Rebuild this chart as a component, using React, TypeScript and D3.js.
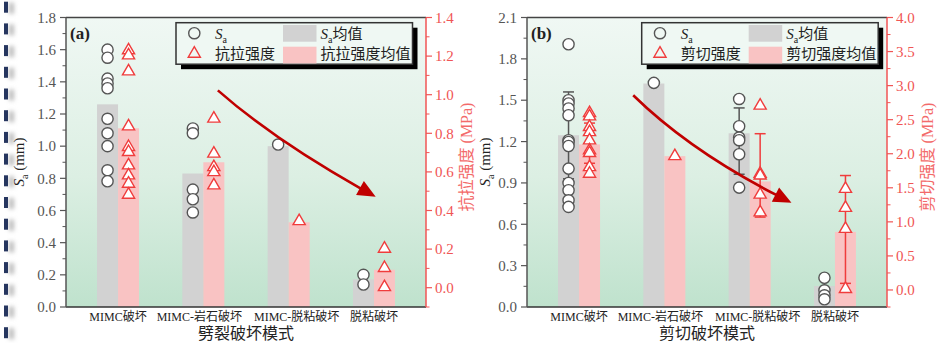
import React from "react";
import * as d3 from "d3";

// ---------- data ----------
const categories = ["MIMC破坏", "MIMC-岩石破坏", "MIMC-脱粘破坏", "脱粘破坏"];

// Panel (a) – splitting
const saMeanA = [1.26, 0.83, 1.0, 0.172];
const tensileMeanA = [0.826, 0.65, 0.339, 0.093];
const saPointsA = [
  [1.6, 1.55, 1.42, 1.39, 1.36, 1.17, 1.08, 1.0, 0.85, 0.782],
  [1.11, 1.08, 0.73, 0.67, 0.588],
  [1.01],
  [0.2, 0.14],
];
const tensilePointsA = [
  [1.23, 1.204, 1.121, 0.836, 0.729, 0.703, 0.634, 0.582, 0.539, 0.482],
  [0.876, 0.695, 0.625, 0.599, 0.53],
  [0.345],
  [0.202, 0.102, 0.003],
];
const saTicksA = [0, 0.2, 0.4, 0.6, 0.8, 1.0, 1.2, 1.4, 1.6, 1.8];
const tensileTicksA = [0, 0.2, 0.4, 0.6, 0.8, 1.0, 1.2, 1.4];

// Panel (b) – shear
const saMeanB = [1.246, 1.621, 1.26, 0.152];
const shearMeanB = [2.137, 1.965, 1.593, 0.853];
const saPointsB = [
  [1.906, 1.5, 1.476, 1.44, 1.391, 1.21, 1.197, 1.168, 1.004, 0.9, 0.847, 0.774, 0.726],
  [1.626],
  [1.509, 1.311, 1.229, 1.21, 1.108, 0.866],
  [0.212, 0.121, 0.085, 0.056],
];
const shearPointsB = [
  [2.597, 2.549, 2.392, 2.318, 2.196, 2.049, 2.01, 1.804, 1.706],
  [1.965],
  [2.706, 1.706, 1.68, 1.4, 1.14],
  [1.485, 1.206, 0.897, 0.015],
];
const saErrLowB = [0.93, null, 0.963, 0.05];
const saErrHighB = [1.56, null, 1.444, 0.2];
const shearErrLowB = [1.86, null, 1.07, 0.097];
const shearErrHighB = [2.45, null, 2.294, 1.68];
const saTicksB = [0, 0.3, 0.6, 0.9, 1.2, 1.5, 1.8, 2.1];
const shearTicksB = [0, 0.5, 1.0, 1.5, 2.0, 2.5, 3.0, 3.5, 4.0];

// trend arrows: [category index, Sa value]
const arrowA = { from: [1.17, 1.347], ctrl: [1.835, 1.037], to: [3.02, 0.685] };
const arrowB = { from: [0.635, 1.536], ctrl: [1.294, 1.137], to: [2.49, 0.756] };

// ---------- styling ----------
const SERIF = "Liberation Serif, Times New Roman, Noto Sans CJK SC, serif";
const GRAY_BAR = "#d2d2d2";
const PINK_BAR = "#f9c3c3";
const DARK = "#555555";
const RED = "#f03c3c";
const RED_AX = "#f05555";
const ARROW = "#c00000";
const CAT_LABEL_SHIFT = [0, -4, 8, 0];

type PanelProps = {
  id: string;
  left: number;
  right: number;
  tag: string;
  yL: [number, number];
  yLTicks: number[];
  yLMinorStep: number;
  yR: [number, number];
  yRTicks: number[];
  yRMinorStep: number;
  saMean: number[];
  strMean: number[];
  saPts: number[][];
  strPts: number[][];
  saLo?: (number | null)[];
  saHi?: (number | null)[];
  strLo?: (number | null)[];
  strHi?: (number | null)[];
  strName: string;
  xTitle: string;
  arrow: { from: number[]; ctrl: number[]; to: number[] };
  legendX: number;
  leftLabelOff: number;
  rightLabelOff: number;
};

const TOP = 17.5;
const BOTTOM = 307;

function Panel(p: PanelProps) {
  const x = d3.scalePoint<string>().domain(categories).range([p.left, p.right]).padding(0.61);
  const xi = d3.scaleLinear().domain([0, 3]).range([x(categories[0])!, x(categories[3])!]);
  const yL = d3.scaleLinear().domain(p.yL).range([BOTTOM, TOP]);
  const yR = d3.scaleLinear().domain(p.yR).range([BOTTOM, TOP]);
  const bw = 21;
  const tri = d3.symbol().type(d3.symbolTriangle).size(64)()!;
  const fmt = d3.format(".1f");

  const minorL: number[] = [];
  for (let v = p.yL[0]; v <= p.yL[1] + 1e-9; v += p.yLMinorStep) {
    const r = Math.round(v * 1000) / 1000;
    if (!p.yLTicks.some((t) => Math.abs(t - r) < 1e-6)) minorL.push(r);
  }
  const minorR: number[] = [];
  for (let v = p.yRTicks[0] - p.yRMinorStep; v <= p.yR[1] + 1e-9; v += p.yRMinorStep) {
    const r = Math.round(v * 1000) / 1000;
    if (r < p.yR[0] - 1e-9) continue;
    if (!p.yRTicks.some((t) => Math.abs(t - r) < 1e-6)) minorR.push(r);
  }

  // arrow geometry
  const P0 = [xi(p.arrow.from[0]), yL(p.arrow.from[1])];
  const C = [xi(p.arrow.ctrl[0]), yL(p.arrow.ctrl[1])];
  const T = [xi(p.arrow.to[0]), yL(p.arrow.to[1])];
  const dx = T[0] - C[0];
  const dy = T[1] - C[1];
  const dl = Math.hypot(dx, dy);
  const ux = dx / dl;
  const uy = dy / dl;
  const HL = 18;
  const HW = 8;
  const B = [T[0] - ux * HL, T[1] - uy * HL];
  const curve = d3.path();
  curve.moveTo(P0[0], P0[1]);
  curve.quadraticCurveTo(C[0], C[1], B[0] + ux * 2, B[1] + uy * 2);
  const head = `M${T[0]},${T[1]} L${B[0] - uy * HW},${B[1] + ux * HW} L${B[0] + uy * HW},${B[1] - ux * HW} Z`;

  const lx = p.legendX;
  const ly = 22.7;
  const lw = 236.5;
  const lh = 41.5;

  const plotW = p.right - p.left;
  const cx = (p.left + p.right) / 2;

  return (
    <g>
      <defs>
        <linearGradient id={`bg-${p.id}`} x1="0" y1="0" x2="0" y2="1">
          <stop offset="0%" stopColor="#f0f8f4" />
          <stop offset="55%" stopColor="#dcefe3" />
          <stop offset="100%" stopColor="#bfe2cd" />
        </linearGradient>
      </defs>
      <rect x={p.left} y={TOP} width={plotW} height={BOTTOM - TOP} fill={`url(#bg-${p.id})`} />

      {/* bars */}
      {categories.map((c, i) => (
        <g key={c}>
          <rect x={x(c)! - bw} y={yL(p.saMean[i])} width={bw} height={BOTTOM - yL(p.saMean[i])} fill={GRAY_BAR} />
          <rect x={x(c)!} y={yR(p.strMean[i])} width={bw} height={BOTTOM - yR(p.strMean[i])} fill={PINK_BAR} />
        </g>
      ))}

      {/* error bars */}
      {categories.map((c, i) => {
        const out: React.ReactNode[] = [];
        if (p.saLo && p.saLo[i] != null) {
          const xc = x(c)! - bw / 2;
          const a = yL(p.saLo[i]!);
          const b = yL(p.saHi![i]!);
          out.push(
            <g key={"se" + i} stroke={DARK} strokeWidth={1.5}>
              <line x1={xc} x2={xc} y1={a} y2={b} />
              <line x1={xc - 5.5} x2={xc + 5.5} y1={a} y2={a} />
              <line x1={xc - 5.5} x2={xc + 5.5} y1={b} y2={b} />
            </g>
          );
        }
        if (p.strLo && p.strLo[i] != null) {
          const xc = x(c)! + bw / 2;
          const a = yR(p.strLo[i]!);
          const b = yR(p.strHi![i]!);
          out.push(
            <g key={"te" + i} stroke={RED} strokeWidth={1.5}>
              <line x1={xc} x2={xc} y1={a} y2={b} />
              <line x1={xc - 5.5} x2={xc + 5.5} y1={a} y2={a} />
              <line x1={xc - 5.5} x2={xc + 5.5} y1={b} y2={b} />
            </g>
          );
        }
        return out;
      })}

      {/* points */}
      {categories.map((c, i) => (
        <g key={"p" + c}>
          {p.saPts[i].map((v, j) => (
            <circle key={j} cx={x(c)! - bw / 2} cy={yL(v)} r={5.6} fill="#ffffff" stroke={DARK} strokeWidth={1.4} />
          ))}
          {p.strPts[i].map((v, j) => (
            <path key={j} d={tri} transform={`translate(${x(c)! + bw / 2},${yR(v)})`} fill="#ffffff" stroke={RED} strokeWidth={1.4} />
          ))}
        </g>
      ))}

      {/* arrow */}
      <path d={curve.toString()} fill="none" stroke={ARROW} strokeWidth={2.6} />
      <path d={head} fill={ARROW} />

      {/* frame & axes */}
      <line x1={p.left} x2={p.right} y1={TOP} y2={TOP} stroke="#444" strokeWidth={1.3} />
      <line x1={p.left} x2={p.right} y1={BOTTOM} y2={BOTTOM} stroke="#333" strokeWidth={1.5} />
      <line x1={p.left} x2={p.left} y1={TOP} y2={BOTTOM} stroke="#555" strokeWidth={1.5} />
      <line x1={p.right} x2={p.right} y1={TOP} y2={BOTTOM} stroke={RED_AX} strokeWidth={1.5} />

      {p.yLTicks.map((t) => (
        <g key={"lt" + t}>
          <line x1={p.left - 6} x2={p.left} y1={yL(t)} y2={yL(t)} stroke="#555" strokeWidth={1.2} />
          <text x={p.left - 10} y={yL(t)} dy="0.35em" textAnchor="end" fontFamily={SERIF} fontSize={15} fill="#555">
            {fmt(t)}
          </text>
        </g>
      ))}
      {minorL.map((t) => (
        <line key={"lm" + t} x1={p.left - 3.5} x2={p.left} y1={yL(t)} y2={yL(t)} stroke="#555" strokeWidth={1} />
      ))}
      {p.yRTicks.map((t) => (
        <g key={"rt" + t}>
          <line x1={p.right} x2={p.right + 6} y1={yR(t)} y2={yR(t)} stroke={RED_AX} strokeWidth={1.2} />
          <text x={p.right + 9} y={yR(t)} dy="0.35em" textAnchor="start" fontFamily={SERIF} fontSize={15} fill={RED_AX}>
            {fmt(t)}
          </text>
        </g>
      ))}
      {minorR.map((t) => (
        <line key={"rm" + t} x1={p.right} x2={p.right + 3.5} y1={yR(t)} y2={yR(t)} stroke={RED_AX} strokeWidth={1} />
      ))}

      {/* category labels */}
      {categories.map((c, i) => (
        <text key={"cl" + c} x={x(c)! + CAT_LABEL_SHIFT[i]} y={321} textAnchor="middle" fontFamily={SERIF} fontSize={12} fill="#222">
          {c}
        </text>
      ))}
      <text x={cx} y={339} textAnchor="middle" fontFamily={SERIF} fontSize={16} fill="#222">
        {p.xTitle}
      </text>

      {/* axis titles */}
      <text
        transform={`translate(${p.left + p.leftLabelOff},${162}) rotate(-90)`}
        textAnchor="middle"
        fontFamily={SERIF}
        fontSize={15}
        fill="#222"
      >
        <tspan fontStyle="italic">S</tspan>
        <tspan fontSize={10} dy={4}>a</tspan>
        <tspan dy={-4}> (mm)</tspan>
      </text>
      <text
        transform={`translate(${p.right + p.rightLabelOff},${157}) rotate(-90)`}
        textAnchor="middle"
        dy="0.35em"
        fontFamily={SERIF}
        fontSize={16}
        fill="#f36a6a"
      >
        {p.strName} (MPa)
      </text>

      {/* panel tag */}
      <text x={p.left + 4} y={39} fontFamily={SERIF} fontSize={17} fontWeight="bold" fill="#222">
        {p.tag}
      </text>

      {/* legend */}
      <rect x={lx + 5} y={ly + 5} width={lw} height={lh} fill="#000" />
      <rect x={lx} y={ly} width={lw} height={lh} fill="#eff8f3" stroke="#333" strokeWidth={1.5} />
      <circle cx={lx + 18.3} cy={ly + 10.5} r={5.6} fill="none" stroke={DARK} strokeWidth={1.4} />
      <path d={tri} transform={`translate(${lx + 18.3},${ly + 31})`} fill="none" stroke={RED} strokeWidth={1.4} />
      <text x={lx + 39} y={ly + 16} fontFamily={SERIF} fontSize={15} fill="#222">
        <tspan fontStyle="italic">S</tspan>
        <tspan fontSize={10} dy={4}>a</tspan>
      </text>
      <text x={lx + 39} y={ly + 36} fontFamily={SERIF} fontSize={15} fill="#222">
        {p.strName}
      </text>
      <rect x={lx + 107} y={ly + 2.3} width={33.5} height={16.7} fill={GRAY_BAR} />
      <rect x={lx + 107} y={ly + 24} width={33.5} height={16.7} fill={PINK_BAR} />
      <text x={lx + 144.5} y={ly + 16} fontFamily={SERIF} fontSize={15} fill="#222">
        <tspan fontStyle="italic">S</tspan>
        <tspan fontSize={10} dy={4}>a</tspan>
        <tspan dy={-4}>均值</tspan>
      </text>
      <text x={lx + 144.5} y={ly + 36} fontFamily={SERIF} fontSize={15} fill="#222">
        {p.strName}均值
      </text>
    </g>
  );
}

export default function App() {
  const dashes = d3.range(16).map((i) => 1.7 + i * 21.7);
  return (
    <svg
      width={942}
      height={343}
      viewBox="0 0 942 343"
      style={{ position: "absolute", left: 0, top: 0, display: "block", background: "#fff" }}
    >
      <defs>
        <filter id="blurL" x="-2" y="-1" width="5" height="3">
          <feGaussianBlur stdDeviation="2" />
        </filter>
      </defs>
      <rect x={0} y={0} width={942} height={343} fill="#fff" />
      {dashes.map((y, i) => (
        <g key={i}>
          <rect x={9} y={y + 1} width={5} height={11} fill="#bbbbbb" filter="url(#blurL)" />
          <rect x={4} y={y} width={4} height={11} fill="#26365f" />
        </g>
      ))}
      <Panel
        id="a"
        left={66}
        right={426}
        tag="(a)"
        yL={[0, 1.8]}
        yLTicks={saTicksA}
        yLMinorStep={0.1}
        yR={[-0.1, 1.4]}
        yRTicks={tensileTicksA}
        yRMinorStep={0.1}
        saMean={saMeanA}
        strMean={tensileMeanA}
        saPts={saPointsA}
        strPts={tensilePointsA}
        strName="抗拉强度"
        xTitle="劈裂破坏模式"
        arrow={arrowA}
        legendX={176}
        leftLabelOff={-42}
        rightLabelOff={40.5}
      />
      <Panel
        id="b"
        left={527}
        right={887}
        tag="(b)"
        yL={[0, 2.1]}
        yLTicks={saTicksB}
        yLMinorStep={0.15}
        yR={[-0.25, 4.0]}
        yRTicks={shearTicksB}
        yRMinorStep={0.25}
        saMean={saMeanB}
        strMean={shearMeanB}
        saPts={saPointsB}
        strPts={shearPointsB}
        saLo={saErrLowB}
        saHi={saErrHighB}
        strLo={shearErrLowB}
        strHi={shearErrHighB}
        strName="剪切强度"
        xTitle="剪切破坏模式"
        arrow={arrowB}
        legendX={641.7}
        leftLabelOff={-37}
        rightLabelOff={40}
      />
    </svg>
  );
}
